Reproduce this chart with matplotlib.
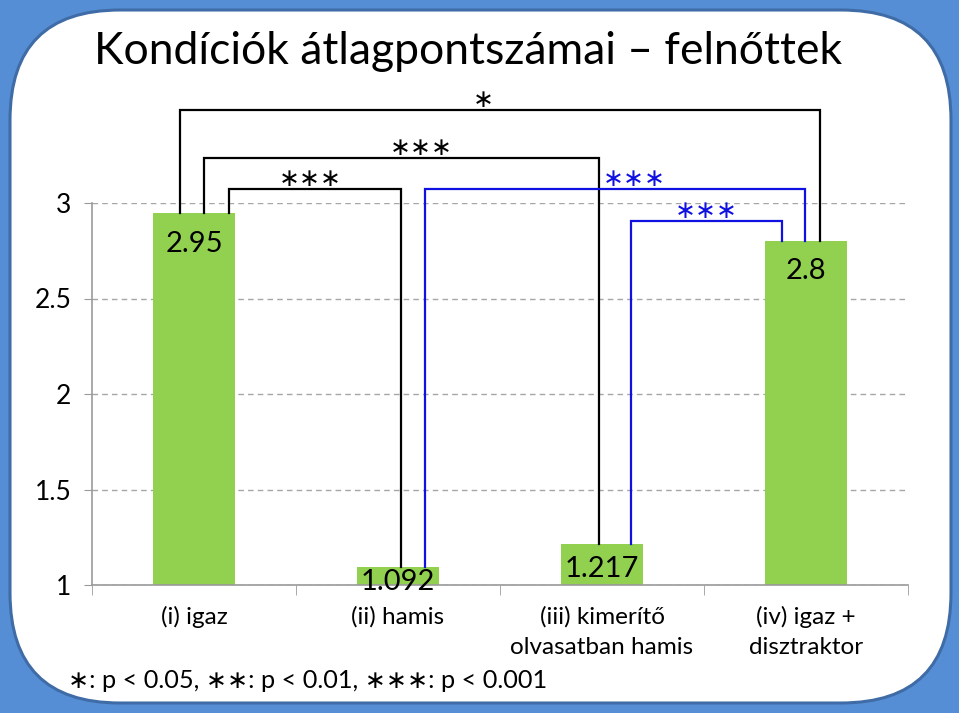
import matplotlib
matplotlib.use("Agg")
import matplotlib.pyplot as plt
from matplotlib.patches import FancyBboxPatch
from matplotlib.transforms import IdentityTransform

plt.rcParams['font.family'] = ['Lato', 'DejaVu Sans']

# data
categories = ['(i) igaz', '(ii) hamis', '(iii) kimerítő\nolvasatban hamis', '(iv) igaz +\ndisztraktor']
means = [2.95, 1.092, 1.217, 2.8]
value_labels = ['2.95', '1.092', '1.217', '2.8']
yticks = [1, 1.5, 2, 2.5, 3]

# significance brackets: (left bar, right bar, label, colour)
brackets = [
    (0, 3, '∗', 'black'),
    (0, 2, '∗∗∗', 'black'),
    (0, 1, '∗∗∗', 'black'),
    (1, 3, '∗∗∗', '#1010E0'),
    (2, 3, '∗∗∗', '#1010E0'),
]
# layout of brackets: leg offsets from bar centre, bar height, star x
bracket_layout = [
    (-0.07, 0.07, 3.487, 1.417),
    (0.05, -0.015, 3.236, 1.113),
    (0.17, 0.015, 3.073, 0.569),
    (0.13, -0.005, 3.073, 2.157),
    (0.14, -0.12, 2.906, 2.510),
]
label_offsets = [-31, -15, -25, -30]  # px from bar top

W, H = 959, 713
fig = plt.figure(figsize=(W / 100, H / 100), dpi=100, facecolor='#558ED5')

# white rounded panel
panel = FancyBboxPatch((10, 10), 941, 693, boxstyle='round,pad=0,rounding_size=110',
                       transform=IdentityTransform(), facecolor='white',
                       edgecolor='#3F6CA6', linewidth=2.2, zorder=-5)
fig.patches.append(panel)

ax = fig.add_axes([92 / W, (H - 585) / H, 816 / W, (585 - 203) / H])
ax.set_facecolor('none')
ax.set_zorder(2)

x = range(len(categories))
ax.bar(x, means, width=0.4, color='#92D050', bottom=0, zorder=2)
ax.set_xlim(-0.5, 3.5)
ax.set_ylim(1, 3)

for i, (v, lab, off) in enumerate(zip(means, value_labels, label_offsets)):
    ax.annotate(lab, (i, v), xytext=(0, off * 0.72), textcoords='offset points',
                ha='center', va='center', fontsize=21, color='black', zorder=4)

# axes styling
for s in ['top', 'right']:
    ax.spines[s].set_visible(False)
for s in ['left', 'bottom']:
    ax.spines[s].set_color('#9A9A9A')
    ax.spines[s].set_linewidth(1.2)

ax.set_yticks(yticks)
ax.set_yticklabels([f'{t:g}' for t in yticks], fontsize=19)
ax.tick_params(axis='y', length=6, color='#9A9A9A', pad=9)
ax.yaxis.grid(True, linestyle=(0, (4, 3)), color='#A6A6A6', linewidth=1)
ax.set_axisbelow(True)

ax.set_xticks(list(x))
ax.set_xticklabels(categories, fontsize=17.5, linespacing=1.55)
ax.tick_params(axis='x', length=0, pad=15)
ax.set_xticks([-0.5, 0.5, 1.5, 2.5, 3.5], minor=True)
ax.tick_params(axis='x', which='minor', length=7, color='#9A9A9A')

# brackets
for (a, b, lab, col), (oa, ob, h, sx) in zip(brackets, bracket_layout):
    xa, xb = a + oa, b + ob
    ax.plot([xa, xa, xb, xb], [means[a], h, h, means[b]], color=col,
            linewidth=1.6, clip_on=False, zorder=3, solid_joinstyle='miter')
    ax.annotate(lab, (sx, h), xytext=(0, 7), textcoords='offset points',
                ha='center', va='center', fontsize=18, color=col,
                family='DejaVu Sans', annotation_clip=False)

fig.text(468 / W, (H - 52) / H, 'Kondíciók átlagpontszámai – felnőttek',
         ha='center', va='center', fontsize=32, color='black')

fig.text(68 / W, (H - 680) / H, '∗: p < 0.05, ∗∗: p < 0.01, ∗∗∗: p < 0.001',
         ha='left', va='center', fontsize=18.2, color='black')

fig.savefig('out.png', dpi=100, facecolor=fig.get_facecolor())
